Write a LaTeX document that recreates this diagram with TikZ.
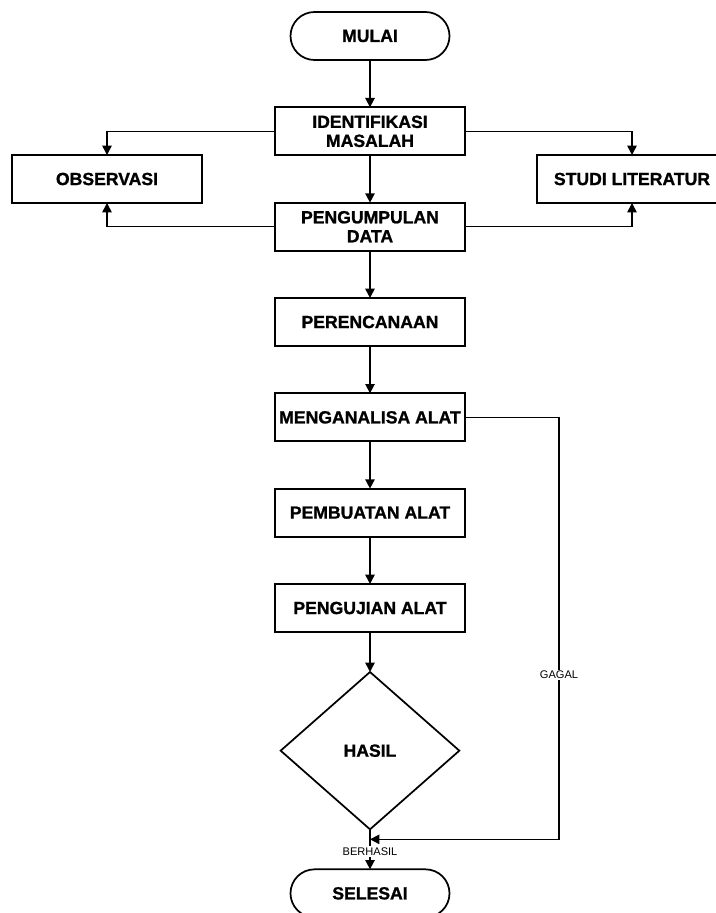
\documentclass[tikz,border=0pt]{standalone}
\usepackage{fontspec}
\setmainfont{Liberation Sans}
\newfontfamily\heavyfont{Liberation Sans}[FakeBold=1.2]
\usetikzlibrary{positioning,arrows.meta,shapes.geometric,calc}

\begin{document}
\begin{tikzpicture}[
        x=0.75pt, y=-0.75pt,
        node distance=35.5pt,
        >={Triangle[length=7pt,width=7pt]},
        stepbox/.style={rectangle, draw=black, line width=1.3pt, outer sep=0pt, align=center, inner sep=2pt, minimum width=142.5pt, minimum height=36pt, font=\heavyfont\bfseries\fontsize{13.2}{14.25}\selectfont},
        term/.style={rectangle, rounded corners=18pt, draw=black, line width=1.3pt, outer sep=0pt, align=center, minimum width=119.25pt, minimum height=36pt, font=\heavyfont\bfseries\fontsize{13.2}{14.25}\selectfont},
        decision/.style={diamond, draw=black, line width=1.3pt, outer sep=0pt, align=center, inner sep=0pt, minimum width=134pt, minimum height=118pt, font=\heavyfont\bfseries\fontsize{13.2}{14.25}\selectfont},
        lbl/.style={fill=white, inner sep=1pt, font=\fontsize{8.3}{9}\selectfont},
        arrow/.style={->, line width=1.2pt}
    ]
    \useasboundingbox (0,0) rectangle (716,913);

    \node[term] (mulai) at (370,36) {MULAI};
    \node[stepbox, below=of mulai] (ident) {IDENTIFIKASI\\MASALAH};
    \node[stepbox, below=of ident] (peng) {PENGUMPULAN\\DATA};
    \node[stepbox, below=of peng] (peren) {PERENCANAAN};
    \node[stepbox, below=of peren] (analisa) {MENGANALISA ALAT};
    \node[stepbox, below=of analisa] (buat) {PEMBUATAN ALAT};
    \node[stepbox, below=of buat] (uji) {PENGUJIAN ALAT};
    \node[decision, below=30pt of uji] (hasil) {HASIL};
    \node[term, below=30pt of hasil] (selesai) {SELESAI};

    \node[stepbox] (obs) at (107,179) {OBSERVASI};
    \node[stepbox] (studi) at (632,179) {STUDI LITERATUR};

    \coordinate[right=70.5pt of analisa.east] (turn);
    \coordinate (join) at ($(hasil.south)!0.25!(selesai.north)$);

    \draw[arrow] (mulai) -- (ident);
    \draw[arrow] (ident) -- (peng);
    \draw[arrow] (peng) -- (peren);
    \draw[arrow] (peren) -- (analisa);
    \draw[arrow] (analisa) -- (buat);
    \draw[arrow] (buat) -- (uji);
    \draw[arrow] (uji) -- (hasil);
    \draw[arrow] (hasil) -- node[lbl, pos=0.55] {BERHASIL} (selesai);

    \draw[arrow] (ident.west) -| (obs.north);
    \draw[arrow] (ident.east) -| (studi.north);
    \draw[arrow] (peng.west) -| (obs.south);
    \draw[arrow] (peng.east) -| (studi.south);

    \draw[arrow] (analisa.east) -- (turn) |- node[lbl, pos=0.305] {GAGAL} (join);
\end{tikzpicture}
\end{document}
